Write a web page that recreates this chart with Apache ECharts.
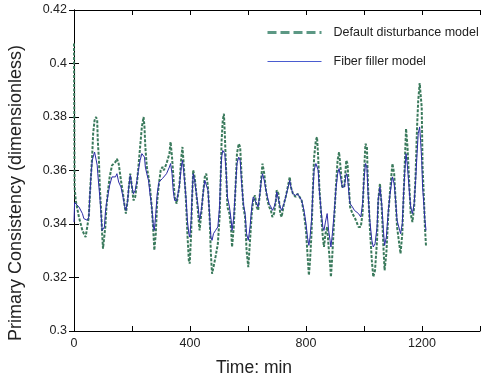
<!DOCTYPE html>
<html>
<head>
<meta charset="utf-8">
<script src="https://cdn.jsdelivr.net/npm/echarts@6/dist/echarts.min.js"></script>
<style>html,body{margin:0;padding:0;background:#fff;}#c{width:483px;height:382px;}</style>
</head>
<body>
<div id="c"></div>
<script>
var timeMin = [0,2,6,17,29,34,40,46,51,55,59,63,66,71,76,80,82,86,89,94,97,100,105,108,112,116,123,131,137,143,148,154,162,169,175,179,185,189,194,200,205,211,217,222,228,234,240,243,246,251,257,262,268,274,277,282,287,293,299,305,310,319,329,333,338,342,347,354,363,370,374,379,386,391,396,399,404,407,411,416,422,428,433,439,445,451,456,462,468,472,476,481,488,496,502,505,509,513,517,520,525,529,536,542,545,551,557,562,568,573,578,584,590,595,601,607,613,618,624,630,635,641,646,650,656,662,667,673,679,684,690,696,699,705,711,716,724,730,737,744,748,755,764,771,778,785,793,800,805,810,814,819,824,828,834,838,842,846,852,858,862,867,873,878,883,886,891,897,903,909,914,919,925,932,939,943,948,952,960,967,972,981,989,995,1000,1005,1010,1014,1020,1027,1032,1038,1045,1049,1055,1061,1067,1071,1077,1084,1090,1098,1104,1109,1114,1126,1132,1136,1141,1145,1150,1156,1161,1167,1173,1178,1183,1187,1192,1195,1199,1202,1207,1210,1214];
var defaultModel = [0.4075,0.3538,0.3488,0.3426,0.3376,0.3364,0.3351,0.3349,0.3426,0.3513,0.3588,0.3663,0.3738,0.3788,0.3800,0.3788,0.3713,0.3638,0.3538,0.3439,0.3364,0.3308,0.3314,0.3389,0.3464,0.3513,0.3576,0.3619,0.3625,0.3632,0.3644,0.3626,0.3563,0.3513,0.3464,0.3439,0.3488,0.3538,0.3588,0.3538,0.3488,0.3501,0.3551,0.3613,0.3688,0.3763,0.3800,0.3763,0.3688,0.3613,0.3576,0.3538,0.3464,0.3364,0.3302,0.3364,0.3488,0.3551,0.3601,0.3613,0.3601,0.3626,0.3663,0.3707,0.3650,0.3588,0.3501,0.3476,0.3538,0.3650,0.3688,0.3613,0.3488,0.3364,0.3264,0.3252,0.3364,0.3488,0.3601,0.3576,0.3513,0.3439,0.3376,0.3439,0.3513,0.3576,0.3588,0.3538,0.3414,0.3289,0.3214,0.3239,0.3277,0.3326,0.3426,0.3538,0.3713,0.3788,0.3812,0.3738,0.3588,0.3464,0.3439,0.3376,0.3314,0.3389,0.3538,0.3663,0.3700,0.3688,0.3576,0.3464,0.3426,0.3302,0.3239,0.3339,0.3439,0.3488,0.3507,0.3464,0.3451,0.3513,0.3576,0.3626,0.3588,0.3526,0.3488,0.3464,0.3451,0.3426,0.3439,0.3488,0.3526,0.3513,0.3439,0.3426,0.3476,0.3501,0.3538,0.3576,0.3538,0.3513,0.3501,0.3513,0.3501,0.3488,0.3439,0.3376,0.3289,0.3208,0.3264,0.3364,0.3538,0.3650,0.3713,0.3725,0.3650,0.3538,0.3439,0.3351,0.3314,0.3364,0.3389,0.3314,0.3252,0.3202,0.3289,0.3414,0.3538,0.3638,0.3669,0.3613,0.3538,0.3538,0.3638,0.3626,0.3538,0.3464,0.3439,0.3426,0.3414,0.3389,0.3389,0.3439,0.3588,0.3700,0.3688,0.3538,0.3389,0.3264,0.3202,0.3227,0.3339,0.3488,0.3551,0.3464,0.3314,0.3227,0.3289,0.3439,0.3526,0.3626,0.3588,0.3488,0.3389,0.3289,0.3364,0.3488,0.3638,0.3756,0.3688,0.3551,0.3439,0.3407,0.3464,0.3588,0.3763,0.3862,0.3927,0.3887,0.3837,0.3613,0.3488,0.3389,0.3314];
var fiberModel = [0.3407,0.3480,0.3476,0.3464,0.3439,0.3420,0.3414,0.3414,0.3426,0.3513,0.3588,0.3638,0.3650,0.3669,0.3665,0.3620,0.3588,0.3538,0.3501,0.3426,0.3376,0.3380,0.3389,0.3440,0.3476,0.3501,0.3545,0.3576,0.3582,0.3576,0.3588,0.3557,0.3538,0.3501,0.3464,0.3451,0.3488,0.3538,0.3582,0.3538,0.3513,0.3526,0.3563,0.3601,0.3638,0.3663,0.3669,0.3650,0.3613,0.3588,0.3563,0.3513,0.3464,0.3389,0.3376,0.3439,0.3513,0.3557,0.3563,0.3570,0.3570,0.3588,0.3613,0.3626,0.3588,0.3526,0.3488,0.3488,0.3538,0.3613,0.3638,0.3588,0.3501,0.3414,0.3364,0.3351,0.3414,0.3501,0.3588,0.3563,0.3513,0.3464,0.3414,0.3451,0.3513,0.3563,0.3570,0.3526,0.3426,0.3351,0.3339,0.3364,0.3376,0.3389,0.3464,0.3563,0.3650,0.3675,0.3670,0.3663,0.3588,0.3501,0.3464,0.3414,0.3376,0.3426,0.3538,0.3626,0.3650,0.3638,0.3551,0.3476,0.3439,0.3364,0.3339,0.3389,0.3464,0.3501,0.3507,0.3476,0.3464,0.3513,0.3563,0.3588,0.3563,0.3526,0.3501,0.3476,0.3464,0.3451,0.3464,0.3488,0.3520,0.3513,0.3464,0.3451,0.3476,0.3501,0.3532,0.3563,0.3538,0.3513,0.3507,0.3513,0.3501,0.3488,0.3451,0.3401,0.3351,0.3320,0.3351,0.3414,0.3526,0.3601,0.3626,0.3632,0.3601,0.3526,0.3451,0.3389,0.3376,0.3407,0.3439,0.3376,0.3339,0.3314,0.3364,0.3439,0.3526,0.3588,0.3607,0.3576,0.3538,0.3538,0.3588,0.3576,0.3513,0.3476,0.3464,0.3451,0.3451,0.3439,0.3426,0.3476,0.3563,0.3626,0.3613,0.3513,0.3414,0.3339,0.3314,0.3326,0.3389,0.3488,0.3538,0.3476,0.3376,0.3320,0.3351,0.3451,0.3513,0.3576,0.3551,0.3488,0.3414,0.3364,0.3401,0.3501,0.3601,0.3663,0.3613,0.3526,0.3464,0.3439,0.3476,0.3563,0.3663,0.3738,0.3763,0.3713,0.3638,0.3538,0.3464,0.3414,0.3376];

var xTicks = [0, 400, 800, 1200];
var yTickLabels = ['0.3','0.32','0.34','0.36','0.38','0.4','0.42'];

function pairs(t, v) { return t.map(function (x, i) { return [x, v[i]]; }); }

var chart = echarts.init(document.getElementById('c'), null, {renderer: 'canvas'});
var fontFam = 'Liberation Sans, Arial, sans-serif';
var axisCommon = {
  type: 'value',
  axisLine: {show: true, lineStyle: {color: '#000', width: 1}},
  axisTick: {show: true, inside: true, length: 5, lineStyle: {color: '#000'}},
  splitLine: {show: false}
};
chart.setOption({
  animation: false,
  backgroundColor: '#fff',
  grid: {left: 74, top: 10, right: 1, bottom: 51},
  legend: {
    orient: 'vertical', left: 266, top: 26, padding: 0, itemGap: 16, itemWidth: 54, itemHeight: 14,
    itemStyle: {opacity: 0},
    textStyle: {fontFamily: fontFam, fontSize: 12.5, color: '#222', padding: [0, 0, 0, 7]},
    data: [
      {name: 'Default disturbance model', lineStyle: {type: [9, 4], width: 3, color: '#5c9884'}},
      {name: 'Fiber filler model', lineStyle: {width: 1.2, color: '#4a5cd0', opacity: 1}}
    ]
  },
  xAxis: [
    Object.assign({}, axisCommon, {
      min: 0, max: 1400, interval: 200, position: 'bottom',
      axisLabel: {fontFamily: fontFam, fontSize: 12.5, color: '#222', margin: 6,
        formatter: function (v) { return xTicks.indexOf(v) >= 0 ? String(v) : ''; }}
    }),
    Object.assign({}, axisCommon, {
      min: 0, max: 1400, interval: 200, position: 'top', axisLabel: {show: false}
    })
  ],
  yAxis: [
    Object.assign({}, axisCommon, {
      min: 0.3, max: 0.42, interval: 0.02, position: 'left',
      axisLabel: {fontFamily: fontFam, fontSize: 12.5, color: '#222', margin: 7,
        formatter: function (v) { return yTickLabels[Math.round((v - 0.3) / 0.02)]; }}
    }),
    Object.assign({}, axisCommon, {
      min: 0.3, max: 0.42, interval: 0.02, position: 'right', axisLabel: {show: false}
    })
  ],
  graphic: [
    {
      type: 'text', x: 254, y: 368,
      style: {text: 'Time: min', fontFamily: fontFam, fontSize: 17.5, fill: '#222',
        align: 'center', verticalAlign: 'middle'}
    },
    {
      type: 'text', x: 16, y: 193, rotation: Math.PI / 2,
      style: {text: 'Primary Consistency (dimensionless)', fontFamily: fontFam, fontSize: 18, fill: '#222',
        align: 'center', verticalAlign: 'middle'}
    }
  ],
  series: [
    {
      name: 'Default disturbance model', type: 'line', showSymbol: false, symbol: 'none',
      data: pairs(timeMin, defaultModel),
      lineStyle: {color: '#3a7a5c', width: 2, type: [3, 1.5]},
      itemStyle: {color: '#3a7a5c'}
    },
    {
      name: 'Fiber filler model', type: 'line', showSymbol: false, symbol: 'none',
      data: pairs(timeMin, fiberModel),
      lineStyle: {color: '#2c2ca6', width: 1},
      itemStyle: {color: '#2c2ca6'}
    }
  ]
});
</script>
</body>
</html>
